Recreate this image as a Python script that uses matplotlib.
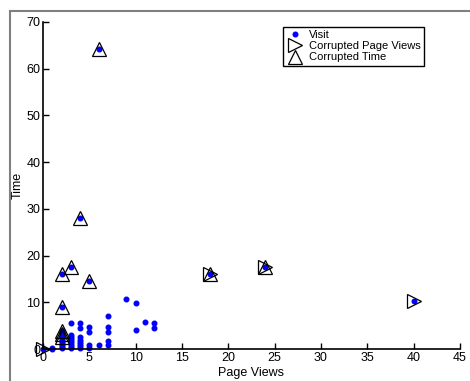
import matplotlib
matplotlib.use('Agg')
import matplotlib.pyplot as plt
from matplotlib.patches import Rectangle

plt.rcParams['font.family'] = ['Liberation Sans', 'DejaVu Sans']

# visits: (page views, time)
visit_x = [0, 1, 1,
           2, 2, 2, 2, 2, 2, 2, 2, 2, 2, 2, 2, 2, 2,
           3, 3, 3, 3, 3, 3, 3, 3, 3, 3,
           4, 4, 4, 4, 4, 4, 4, 4, 4,
           5, 5, 5, 5, 5,
           6, 6,
           7, 7, 7, 7, 7,
           9, 10, 10, 11, 12, 12, 18, 24, 40]
visit_y = [0.1, 0.1, 0.3,
           0.2, 0.5, 0.8, 1.1, 1.4, 1.7, 2.0, 2.3, 2.6, 3.0, 3.4, 3.8, 9.0, 16.0,
           0.2, 0.5, 0.9, 1.3, 1.7, 2.1, 2.6, 3.0, 5.6, 17.5,
           0.3, 0.7, 1.1, 1.5, 2.0, 2.5, 4.6, 5.5, 28.0,
           0.3, 0.8, 3.7, 4.7, 14.6,
           0.8, 64.3,
           0.9, 1.7, 3.7, 4.8, 7.1,
           10.7, 4.0, 9.8, 5.8, 4.4, 5.5, 16.0, 17.5, 10.3]

corrupt_pv_x = [0, 18, 24, 40]
corrupt_pv_y = [0.1, 16.0, 17.5, 10.3]

corrupt_time_x = [6, 4, 2, 3, 5, 2, 2, 2, 2, 18, 24]
corrupt_time_y = [64.3, 28.0, 16.0, 17.5, 14.6, 9.0, 3.9, 3.2, 2.6, 16.0, 17.5]

fig = plt.figure(figsize=(4.7, 3.81), dpi=100)
# grey frame of the original window, cut off at the right and bottom
fig.patches.append(Rectangle((9.5 / 470, -0.2), 1.5, 1.2 - 10.5 / 381,
                             transform=fig.transFigure, fill=False,
                             edgecolor='#808080', linewidth=1.5))
ax = fig.add_axes([43 / 470, 32 / 381, 417 / 470, 327 / 381])

ax.plot(visit_x, visit_y, 'o', color='blue', markersize=3.3, label='Visit',
        clip_on=False)
ax.plot(corrupt_pv_x, corrupt_pv_y, '>', markerfacecolor='none',
        markeredgecolor='black', markersize=10.5, markeredgewidth=0.9,
        label='Corrupted Page Views', clip_on=False)
ax.plot(corrupt_time_x, corrupt_time_y, '^', markerfacecolor='none',
        markeredgecolor='black', markersize=10.5, markeredgewidth=0.9,
        label='Corrupted Time', clip_on=False)

ax.set_xlim(0, 45)
ax.set_ylim(0, 70)
ax.set_xticks(range(0, 46, 5))
ax.set_yticks(range(0, 71, 10))
ax.spines['top'].set_visible(False)
ax.spines['right'].set_visible(False)
ax.spines['left'].set_linewidth(1.2)
ax.spines['bottom'].set_linewidth(1.2)
ax.tick_params(direction='in', length=4, width=1, labelsize=9, pad=2)
ax.set_xlabel('Page Views', fontsize=9, labelpad=2)
ax.set_ylabel('Time', fontsize=9, labelpad=2)

leg = ax.legend(loc='upper right', bbox_to_anchor=(0.914, 0.985), fontsize=8,
                fancybox=False, framealpha=1, edgecolor='black',
                borderpad=0.3, labelspacing=0.1, handletextpad=0.5,
                handlelength=1.5, borderaxespad=0)
leg.get_frame().set_linewidth(1)

fig.savefig('out.png', dpi=100)
